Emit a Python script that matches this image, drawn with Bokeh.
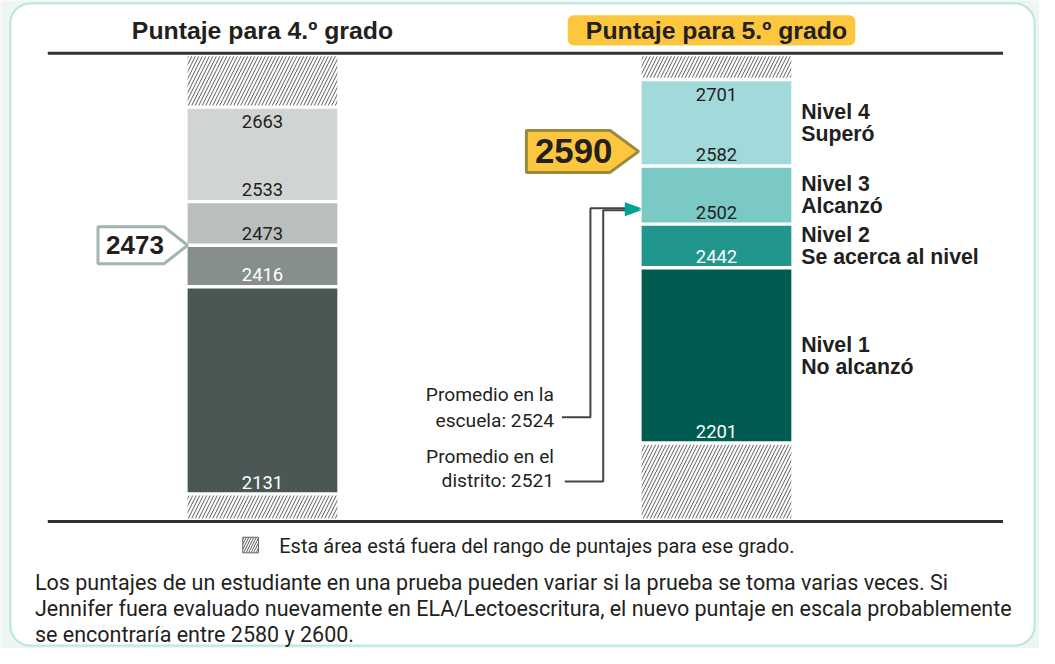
from bokeh.plotting import figure
from bokeh.models import Range1d, BoxAnnotation
from bokeh.core.properties import value
from bokeh.embed import file_html
from bokeh.resources import INLINE

# ---------------- data ----------------
title4 = "Puntaje para 4.º grado"
title5 = "Puntaje para 5.º grado"

grade4_lower = [2533, 2473, 2416, 2131]
grade4_upper = [2663, 2533, 2473, 2416]
grade4_colors = ["#d1d4d4", "#b9bfbe", "#868f8e", "#4b5755"]
grade4_text_colors = ["#231f20", "#231f20", "#ffffff", "#ffffff"]

grade5_lower = [2582, 2502, 2442, 2201]
grade5_upper = [2701, 2582, 2502, 2442]
grade5_colors = ["#a2d9da", "#7bc9c5", "#21968c", "#005b50"]
grade5_text_colors = ["#231f20", "#231f20", "#ffffff", "#ffffff"]
level_names = ["Nivel 4", "Nivel 3", "Nivel 2", "Nivel 1"]
level_desc = ["Superó", "Alcanzó", "Se acerca al nivel", "No alcanzó"]

scale_min, scale_max = 2097, 2733     # full reporting range (hatched beyond grade range)
student_4 = 2473
student_5 = 2590
school_avg = 2524
district_avg = 2521

legend_text = "Esta área está fuera del rango de puntajes para ese grado."
note_lines = [
    "Los puntajes de un estudiante en una prueba pueden variar si la prueba se toma varias veces. Si",
    "Jennifer fuera evaluado nuevamente en ELA/Lectoescritura, el nuevo puntaje en escala probablemente",
    "se encontraría entre 2580 y 2600.",
]

# ---------------- layout helpers ----------------
K = 0.745            # pixels per score point
S0, Y0 = 2464.4, 257.2
PX = 1.0 / K         # score points per pixel
REF_W, REF_H = 1055, 664


def s_of(py):
    """layout y (pixels from top) -> score coordinate"""
    return S0 + (Y0 - py) / K


W, H = 1039, 648
p = figure(width=W, height=H, output_backend="svg", toolbar_location=None,
           x_range=Range1d(0, REF_W), y_range=Range1d(s_of(REF_H), s_of(0)),
           x_axis_type=None, y_axis_type=None, min_border=0)
p.grid.visible = False
p.outline_line_color = None
p.background_fill_color = "#eef6f4"
p.border_fill_color = "#eef6f4"

BOLD = value("Liberation Sans")
REG = value("Roboto")
DARK = "#231f20"

# card
p.add_layout(BoxAnnotation(left=10, right=1050, top=s_of(3), bottom=s_of(661),
                           fill_color="#ffffff", fill_alpha=1, line_color="#2db3a6",
                           line_width=2, border_radius=20, level="underlay"))
# yellow title box
p.add_layout(BoxAnnotation(left=576, right=868, top=s_of(15), bottom=s_of(46),
                           fill_color="#fdc63f", fill_alpha=1, line_color=None,
                           border_radius=6, level="underlay"))

# titles
p.text(x=[266, 727], y=[s_of(31)] * 2, text=[title4, title5], text_font=BOLD,
       text_font_style="bold", text_font_size="24.8px", text_color=DARK,
       text_align="center", text_baseline="middle")

# top and bottom rules
gap = 3.5 * PX
for yy in (scale_max + 3 * PX, scale_min - 3 * PX):
    p.line([48, 1018], [yy, yy], line_color="#2b3136", line_width=3)

bars = [
    dict(x0=190, x1=342, lower=grade4_lower, upper=grade4_upper, colors=grade4_colors,
         tcolors=grade4_text_colors),
    dict(x0=651, x1=803, lower=grade5_lower, upper=grade5_upper, colors=grade5_colors,
         tcolors=grade5_text_colors),
]

for b in bars:
    n = len(b["lower"])
    top_of_grade = max(b["upper"])
    bottom_of_grade = min(b["lower"])
    # hatched out-of-range areas
    p.quad(left=[b["x0"]] * 2, right=[b["x1"]] * 2,
           bottom=[top_of_grade + gap / 2, scale_min],
           top=[scale_max, bottom_of_grade - gap / 2],
           fill_color="#ffffff", line_color=None, hatch_pattern="/",
           hatch_color="#4a4a4a", hatch_scale=7, hatch_weight=0.9)
    # level segments
    p.quad(left=[b["x0"]] * n, right=[b["x1"]] * n,
           bottom=[v + gap / 2 for v in b["lower"]],
           top=[v - gap / 2 for v in b["upper"]],
           fill_color=b["colors"], line_color=None)
    cx = (b["x0"] + b["x1"]) / 2
    # lower-bound labels
    p.text(x=[cx] * n, y=[v + 12 * PX for v in b["lower"]], text=[str(v) for v in b["lower"]],
           text_font=REG, text_font_size="18.4px", text_color=b["tcolors"],
           text_align="center", text_baseline="middle")
    # top label
    p.text(x=[cx], y=[top_of_grade - 15 * PX], text=[str(top_of_grade)],
           text_font=REG, text_font_size="18.4px", text_color=b["tcolors"][0],
           text_align="center", text_baseline="middle")

# level names for grade 5
mids = [(lo + up) / 2 for lo, up in zip(grade5_lower, grade5_upper)]
p.text(x=[813] * 4, y=[m + 11 * PX for m in mids], text=level_names, text_font=BOLD,
       text_font_style="bold", text_font_size="21.3px", text_color=DARK,
       text_align="left", text_baseline="middle")
p.text(x=[813] * 4, y=[m - 11.5 * PX for m in mids], text=level_desc, text_font=BOLD,
       text_font_style="bold", text_font_size="21.3px", text_color=DARK,
       text_align="left", text_baseline="middle")


def pentagon(x0, x1, xtip, yc, half):
    xs = [x0, x1, xtip, x1, x0]
    ys = [yc + half, yc + half, yc, yc - half, yc - half]
    return xs, ys


# student score markers
yc4 = student_4
xs4, ys4 = pentagon(99, 166, 190, yc4, 19 * PX)
yc5 = student_5 + 9 * PX
xs5, ys5 = pentagon(534, 619, 648, yc5, 21.5 * PX)
p.patches(xs=[xs4], ys=[ys4], fill_color="#ffffff", line_color="#a3b5b1", line_width=3)
p.patches(xs=[xs5], ys=[ys5], fill_color="#fdc63f", line_color="#9a8a3c", line_width=3)
p.text(x=[136.5], y=[yc4], text=[str(student_4)], text_font=BOLD, text_font_style="bold",
       text_font_size="26px", text_color=DARK, text_align="center", text_baseline="middle")
p.text(x=[582], y=[yc5], text=[str(student_5)], text_font=BOLD, text_font_style="bold",
       text_font_size="34.8px", text_color=DARK, text_align="center", text_baseline="middle")

# averages
p.line([570, 599, 599, 638], [s_of(427), s_of(427), school_avg, school_avg],
       line_color="#444444", line_width=2)
p.line([573, 612, 612, 638], [s_of(493), s_of(493), district_avg, district_avg],
       line_color="#444444", line_width=2)
for av in (school_avg, district_avg):
    p.patches(xs=[[634, 651, 634]], ys=[[av + 6 * PX, av, av - 6 * PX]],
              fill_color="#00a497", line_color=None)
p.text(x=[562] * 4, y=[s_of(404), s_of(430), s_of(467), s_of(492)],
       text=["Promedio en la", f"escuela: {school_avg}", "Promedio en el",
             f"distrito: {district_avg}"],
       text_font=REG, text_font_size="19.2px", text_color=DARK,
       text_align="right", text_baseline="middle")

# legend
p.quad(left=[246], right=[262], top=[s_of(550)], bottom=[s_of(566)], fill_color="#ffffff",
       line_color="#666666", line_width=1, hatch_pattern="/", hatch_color="#555555",
       hatch_scale=5, hatch_weight=1)
p.text(x=[283], y=[s_of(559)], text=[legend_text], text_font=REG, text_font_size="20px",
       text_color=DARK, text_align="left", text_baseline="middle")

# note
p.text(x=[35] * 3, y=[s_of(596), s_of(623), s_of(650)], text=note_lines, text_font=REG,
       text_font_size="21.5px", text_color=DARK, text_align="left", text_baseline="middle")

open("out.html", "w").write(file_html(p, INLINE))
